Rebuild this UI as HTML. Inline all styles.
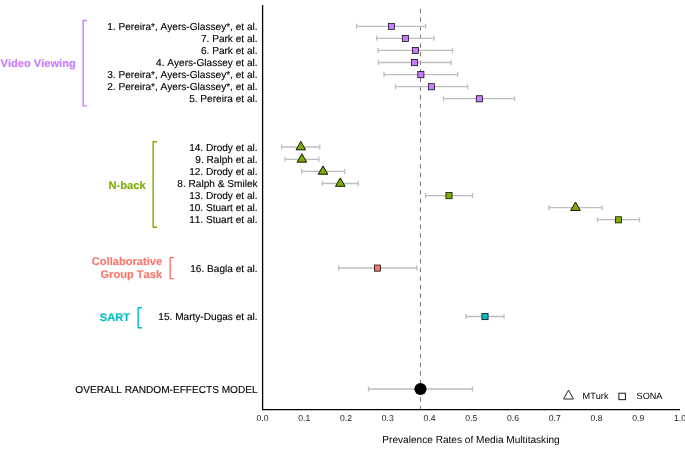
<!DOCTYPE html>
<html><head><meta charset="utf-8"><title>Forest plot</title>
<style>
html,body{margin:0;padding:0;background:#fff;}
body{width:685px;height:460px;overflow:hidden;}
svg{display:block;font-kerning:none;text-rendering:geometricPrecision;font-family:"Liberation Sans",Arial,Helvetica,sans-serif;}
</style></head><body>
<svg width="685" height="460" viewBox="0 0 685 460">
<rect width="685" height="460" fill="#fff"/>
<path d="M420.45 8.8V409" stroke="#5a5a5a" stroke-width="0.85" stroke-dasharray="4.4 4.23" fill="none"/>
<path d="M356.6 26.3H425.6M356.6 23.8V28.8M425.6 23.8V28.8" stroke="#bebebe" stroke-width="1.3" fill="none"/>
<text x="257.6" y="30" text-anchor="end" font-size="10.1" stroke="#000" stroke-width="0.12">1. Pereira*, Ayers-Glassey*, et al.</text>
<path d="M376.7 38.37H434.0M376.7 35.87V40.87M434.0 35.87V40.87" stroke="#bebebe" stroke-width="1.3" fill="none"/>
<text x="257.6" y="42" text-anchor="end" font-size="10.1" stroke="#000" stroke-width="0.12">7. Park et al.</text>
<path d="M378.2 50.44H452.5M378.2 47.94V52.94M452.5 47.94V52.94" stroke="#bebebe" stroke-width="1.3" fill="none"/>
<text x="257.6" y="54" text-anchor="end" font-size="10.1" stroke="#000" stroke-width="0.12">6. Park et al.</text>
<path d="M378.5 62.51H451M378.5 60.01V65.01M451 60.01V65.01" stroke="#bebebe" stroke-width="1.3" fill="none"/>
<text x="257.6" y="66" text-anchor="end" font-size="10.1" stroke="#000" stroke-width="0.12">4. Ayers-Glassey et al.</text>
<path d="M384 74.58H457.6M384 72.08V77.08M457.6 72.08V77.08" stroke="#bebebe" stroke-width="1.3" fill="none"/>
<text x="257.6" y="78" text-anchor="end" font-size="10.1" stroke="#000" stroke-width="0.12">3. Pereira*, Ayers-Glassey*, et al.</text>
<path d="M395.5 86.65H467.6M395.5 84.15V89.15M467.6 84.15V89.15" stroke="#bebebe" stroke-width="1.3" fill="none"/>
<text x="257.6" y="90" text-anchor="end" font-size="10.1" stroke="#000" stroke-width="0.12">2. Pereira*, Ayers-Glassey*, et al.</text>
<path d="M443.5 98.72H514.6M443.5 96.22V101.22M514.6 96.22V101.22" stroke="#bebebe" stroke-width="1.3" fill="none"/>
<text x="257.6" y="102" text-anchor="end" font-size="10.1" stroke="#000" stroke-width="0.12">5. Pereira et al.</text>
<path d="M281.6 147.0H319.8M281.6 144.5V149.5M319.8 144.5V149.5" stroke="#bebebe" stroke-width="1.3" fill="none"/>
<text x="257.6" y="151" text-anchor="end" font-size="10.1" stroke="#000" stroke-width="0.12">14. Drody et al.</text>
<path d="M285.1 159.37H318.9M285.1 156.87V161.87M318.9 156.87V161.87" stroke="#bebebe" stroke-width="1.3" fill="none"/>
<text x="257.6" y="163" text-anchor="end" font-size="10.1" stroke="#000" stroke-width="0.12">9. Ralph et al.</text>
<path d="M301.6 171.44H344.6M301.6 168.94V173.94M344.6 168.94V173.94" stroke="#bebebe" stroke-width="1.3" fill="none"/>
<text x="257.6" y="175" text-anchor="end" font-size="10.1" stroke="#000" stroke-width="0.12">12. Drody et al.</text>
<path d="M322.4 183.51H358.4M322.4 181.01V186.01M358.4 181.01V186.01" stroke="#bebebe" stroke-width="1.3" fill="none"/>
<text x="257.6" y="187" text-anchor="end" font-size="10.1" stroke="#000" stroke-width="0.12">8. Ralph &amp; Smilek</text>
<path d="M425.5 195.58H472.5M425.5 193.08V198.08M472.5 193.08V198.08" stroke="#bebebe" stroke-width="1.3" fill="none"/>
<text x="257.6" y="199" text-anchor="end" font-size="10.1" stroke="#000" stroke-width="0.12">13. Drody et al.</text>
<path d="M549 207.65H602M549 205.15V210.15M602 205.15V210.15" stroke="#bebebe" stroke-width="1.3" fill="none"/>
<text x="257.6" y="211" text-anchor="end" font-size="10.1" stroke="#000" stroke-width="0.12">10. Stuart et al.</text>
<path d="M597.5 219.72H639.5M597.5 217.22V222.22M639.5 217.22V222.22" stroke="#bebebe" stroke-width="1.3" fill="none"/>
<text x="257.6" y="223" text-anchor="end" font-size="10.1" stroke="#000" stroke-width="0.12">11. Stuart et al.</text>
<path d="M338.6 268H416.8M338.6 265.5V270.5M416.8 265.5V270.5" stroke="#bebebe" stroke-width="1.3" fill="none"/>
<text x="257.6" y="272" text-anchor="end" font-size="10.1" stroke="#000" stroke-width="0.12">16. Bagla et al.</text>
<path d="M466 316.5H504M466 314.0V319.0M504 314.0V319.0" stroke="#bebebe" stroke-width="1.3" fill="none"/>
<text x="257.6" y="320" text-anchor="end" font-size="10.1" stroke="#000" stroke-width="0.12">15. Marty-Dugas et al.</text>
<path d="M368.5 389H472.5M368.5 386.5V391.5M472.5 386.5V391.5" stroke="#bebebe" stroke-width="1.3" fill="none"/>
<text x="257.6" y="393" text-anchor="end" font-size="10.1" stroke="#000" stroke-width="0.12">OVERALL RANDOM-EFFECTS MODEL</text>
<rect x="388.32" y="23.33" width="6.15" height="6.15" fill="#c77cff" stroke="#000" stroke-width="0.72"/>
<rect x="402.32" y="35.4" width="6.15" height="6.15" fill="#c77cff" stroke="#000" stroke-width="0.72"/>
<rect x="412.32" y="47.46" width="6.15" height="6.15" fill="#c77cff" stroke="#000" stroke-width="0.72"/>
<rect x="411.53" y="59.54" width="6.15" height="6.15" fill="#c77cff" stroke="#000" stroke-width="0.72"/>
<rect x="417.78" y="71.6" width="6.15" height="6.15" fill="#c77cff" stroke="#000" stroke-width="0.72"/>
<rect x="428.32" y="83.67" width="6.15" height="6.15" fill="#c77cff" stroke="#000" stroke-width="0.72"/>
<rect x="476.23" y="95.74" width="6.15" height="6.15" fill="#c77cff" stroke="#000" stroke-width="0.72"/>
<path d="M300.8 141.40L305.60 149.80H296.00Z" fill="#7cae00" stroke="#000" stroke-width="0.9" stroke-linejoin="miter"/>
<path d="M301.9 153.77L306.70 162.17H297.10Z" fill="#7cae00" stroke="#000" stroke-width="0.9" stroke-linejoin="miter"/>
<path d="M323.0 165.84L327.80 174.24H318.20Z" fill="#7cae00" stroke="#000" stroke-width="0.9" stroke-linejoin="miter"/>
<path d="M340.3 177.91L345.10 186.31H335.50Z" fill="#7cae00" stroke="#000" stroke-width="0.9" stroke-linejoin="miter"/>
<rect x="445.93" y="192.61" width="6.15" height="6.15" fill="#7cae00" stroke="#000" stroke-width="0.72"/>
<path d="M575.5 202.05L580.30 210.45H570.70Z" fill="#7cae00" stroke="#000" stroke-width="0.9" stroke-linejoin="miter"/>
<rect x="615.42" y="216.75" width="6.15" height="6.15" fill="#7cae00" stroke="#000" stroke-width="0.72"/>
<rect x="374.43" y="265.03" width="6.15" height="6.15" fill="#f8766d" stroke="#000" stroke-width="0.72"/>
<rect x="481.93" y="313.53" width="6.15" height="6.15" fill="#00bfc4" stroke="#000" stroke-width="0.72"/>
<circle cx="420.5" cy="389" r="6.1" fill="#000"/>
<path d="M262.6 5V409.6H680" stroke="#000" stroke-width="1.3" fill="none"/>
<text x="262.5" y="420.7" text-anchor="middle" font-size="8.6" fill="#222">0.0</text>
<text x="304.2" y="420.7" text-anchor="middle" font-size="8.6" fill="#222">0.1</text>
<text x="346.0" y="420.7" text-anchor="middle" font-size="8.6" fill="#222">0.2</text>
<text x="387.8" y="420.7" text-anchor="middle" font-size="8.6" fill="#222">0.3</text>
<text x="429.5" y="420.7" text-anchor="middle" font-size="8.6" fill="#222">0.4</text>
<text x="471.2" y="420.7" text-anchor="middle" font-size="8.6" fill="#222">0.5</text>
<text x="513.0" y="420.7" text-anchor="middle" font-size="8.6" fill="#222">0.6</text>
<text x="554.8" y="420.7" text-anchor="middle" font-size="8.6" fill="#222">0.7</text>
<text x="596.5" y="420.7" text-anchor="middle" font-size="8.6" fill="#222">0.8</text>
<text x="638.2" y="420.7" text-anchor="middle" font-size="8.6" fill="#222">0.9</text>
<text x="680.0" y="420.7" text-anchor="middle" font-size="8.6" fill="#222">1.0</text>
<text x="471" y="443" text-anchor="middle" font-size="10.1">Prevalence Rates of Media Multitasking</text>
<path d="M568.5 390.1L573.4 399H563.6Z" fill="none" stroke="#000" stroke-width="0.85"/>
<text x="582.6" y="399.4" font-size="9.15">MTurk</text>
<rect x="618.9" y="393.2" width="6.5" height="6.5" fill="none" stroke="#000" stroke-width="0.9"/>
<text x="636.6" y="399.4" font-size="9.15">SONA</text>
<path d="M87.0 20.5H83.15V105.9H87.0" stroke="#c77cff" stroke-width="1.4" stroke-linejoin="round" fill="none"/>
<text x="75.7" y="67" text-anchor="end" font-size="11.1" font-weight="bold" fill="#c77cff" stroke="#c77cff" stroke-width="0.15">Video Viewing</text>
<path d="M157.0 141.8H153.15V227.2H157.0" stroke="#7cae00" stroke-width="1.4" stroke-linejoin="round" fill="none"/>
<text x="145.6" y="189" text-anchor="end" font-size="11.1" font-weight="bold" fill="#7cae00" stroke="#7cae00" stroke-width="0.15">N-back</text>
<path d="M174.0 257.6H170.15V278.6H174.0" stroke="#f8766d" stroke-width="1.4" stroke-linejoin="round" fill="none"/>
<text x="162.1" y="265" text-anchor="end" font-size="11.1" font-weight="bold" fill="#f8766d" stroke="#f8766d" stroke-width="0.15">Collaborative</text>
<text x="162.1" y="278" text-anchor="end" font-size="11.1" font-weight="bold" fill="#f8766d" stroke="#f8766d" stroke-width="0.15">Group Task</text>
<path d="M142.0 307.8H138.15V327.7H142.0" stroke="#00bfc4" stroke-width="1.4" stroke-linejoin="round" fill="none"/>
<text x="130" y="321" text-anchor="end" font-size="11.1" font-weight="bold" fill="#00bfc4" stroke="#00bfc4" stroke-width="0.15">SART</text>
</svg>
</body></html>
